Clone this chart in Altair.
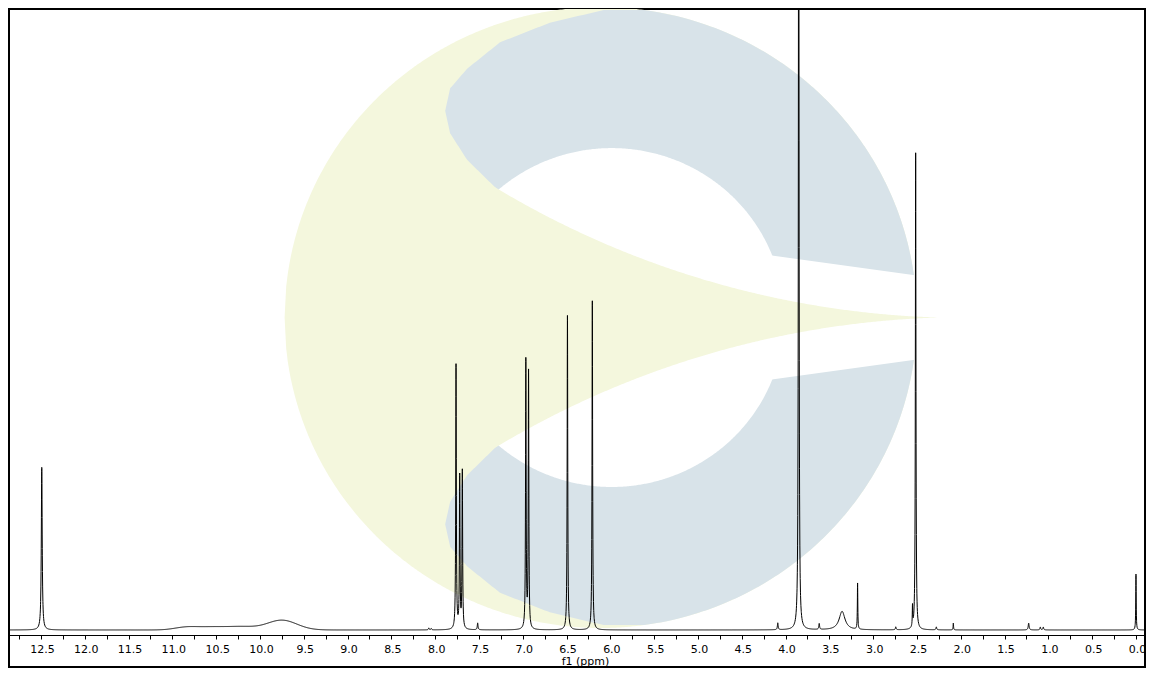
import numpy as np
import pandas as pd
import altair as alt

# ---------------- spectrum data ----------------
# sharp resonances: position (ppm), height (reference px above baseline), FWHM (ppm)
peak_ppm = [12.491, 8.073, 8.045, 7.762, 7.720, 7.690, 7.515, 6.965, 6.934,
            6.490, 6.206, 4.089, 3.850, 3.616, 3.355, 3.178, 2.742, 2.551,
            2.515, 2.279, 2.085, 1.225, 1.092, 1.058, 0.000]
peak_height = [166, 2, 1.5, 270, 155, 161, 7, 274, 262,
               321, 336, 7, 1000, 6, 19, 47, 3, 21,
               487, 3, 7, 7, 3, 3, 57]
peak_fwhm = [0.012, 0.010, 0.010, 0.008, 0.008, 0.008, 0.010, 0.008, 0.008,
             0.008, 0.008, 0.010, 0.008, 0.010, 0.080, 0.006, 0.010, 0.006,
             0.008, 0.010, 0.006, 0.012, 0.010, 0.010, 0.006]

# broad exchangeable humps: position (ppm), height, sigma (ppm)
broad_ppm = [10.85, 10.55, 10.20, 9.75]
broad_height = [2.5, 3.0, 3.0, 10.0]
broad_sigma = [0.13, 0.18, 0.16, 0.17]

# axis ticks (every 0.25 ppm, labelled every 0.5 ppm)
tick_values = [i * 0.25 for i in range(0, 52)]
x_domain = [-0.103, 12.865]
y_domain = [-37.8, 634.0]

# ---------------- build the spectrum trace ----------------
offsets = np.array([0.0, 0.0005, 0.001, 0.0015, 0.002, 0.003, 0.004, 0.005,
                    0.0065, 0.008, 0.010, 0.013, 0.016, 0.020, 0.025, 0.030])
offsets = np.concatenate([-offsets[1:], offsets])
grid = np.arange(x_domain[0], x_domain[1], 0.004)
extra = (np.array(peak_ppm)[:, None] + offsets[None, :]).ravel()
ppm = np.unique(np.concatenate([grid, extra]))
ppm = ppm[(ppm >= x_domain[0]) & (ppm <= x_domain[1])]
inten = np.zeros_like(ppm)
for c, h, w in zip(peak_ppm, peak_height, peak_fwhm):
    hw = w / 2.0
    inten += h * hw ** 2 / ((ppm - c) ** 2 + hw ** 2)
for c, h, s in zip(broad_ppm, broad_height, broad_sigma):
    inten += h * np.exp(-((ppm - c) ** 2) / (2 * s ** 2))
spec = pd.DataFrame({"ppm": ppm, "intensity": inten})

# ---------------- watermark logo (decoration) ----------------
def px_ppm(x):
    return 12.5 - (np.asarray(x, dtype=float) - 42.7) / 87.84

def px_int(y):
    return 640.0 - np.asarray(y, dtype=float)

logo_cx, logo_cy, logo_r = 604.0, 321.0, 317.0
hole_cx, hole_r = 615.0, 173.0
cap_y = [7, 20, 40, 67, 87, 110, 133, 160, 188, 190, 321]
cap_x = [607, 553, 503, 470, 453, 448, 453, 470, 498, 500, 500]

xs_ = np.linspace(logo_cx - logo_r, logo_cx + logo_r, 400)
d = np.sqrt(np.clip(logo_r ** 2 - (xs_ - logo_cx) ** 2, 0, None))
disc = pd.DataFrame({"x": px_ppm(xs_), "t": px_int(logo_cy - d), "b": px_int(logo_cy + d)})

ys_ = np.arange(7, 636, 1.0)
xl = np.interp(np.minimum(ys_, 2 * logo_cy - ys_), cap_y, cap_x)
xr = logo_cx + np.sqrt(np.clip(logo_r ** 2 - (ys_ - logo_cy) ** 2, 0, None))
blue = pd.DataFrame({"y": px_int(ys_), "x": px_ppm(xl), "xr": px_ppm(xr)})

hx = np.linspace(hole_cx - hole_r, hole_cx + hole_r, 300)
hd = np.sqrt(np.clip(hole_r ** 2 - (hx - hole_cx) ** 2, 0, None))
hole = pd.DataFrame({"x": px_ppm(hx), "t": px_int(logo_cy - hd), "b": px_int(logo_cy + hd)})

sx = np.array([770.0, 950.0])
st = 257 + 0.14 * (sx - 770)
strip = pd.DataFrame({"x": px_ppm(sx), "t": px_int(st), "b": px_int(2 * logo_cy - st)})

kx = np.linspace(440, 943, 300)
ku = -580.9 + np.sqrt(902.3 ** 2 - (kx - 970.2) ** 2)
ku = np.minimum(ku, logo_cy)
spike = pd.DataFrame({"x": px_ppm(kx), "t": px_int(ku), "b": px_int(2 * logo_cy - ku)})

YELLOW = "#F4F7DD"
BLUE = "#D8E3E9"

xs = alt.Scale(domain=x_domain, reverse=True, nice=False, zero=False)
ys = alt.Scale(domain=y_domain, nice=False, zero=False)

label_expr = "abs(round(datum.value * 4)) % 2 == 0 ? format(datum.value, '.1f') : ''"
x_axis = alt.Axis(
    values=tick_values,
    labelExpr=label_expr,
    offset=-32,
    grid=False,
    tickSize=4,
    tickWidth=1,
    tickColor="black",
    domainColor="black",
    domainWidth=1,
    labelColor="black",
    labelFont="DejaVu Sans",
    labelFontSize=11,
    labelPadding=4,
    labelOffset=1,
    labelOverlap=False,
    labelFlush=False,
    titleFont="DejaVu Sans",
    titleFontSize=11,
    titleFontWeight="normal",
    titleColor="black",
    titleX=576,
    titleY=26,
    titleAlign="center",
    titleBaseline="middle",
)
X_TITLE = "f1 (ppm)"


def vband(df, color):
    return alt.Chart(df).mark_area(color=color, clip=True, orient="vertical", opacity=1).encode(
        x=alt.X("x:Q", scale=xs, axis=x_axis, title=X_TITLE),
        y=alt.Y("t:Q", scale=ys, axis=None),
        y2="b:Q",
    )


blue_layer = alt.Chart(blue).mark_area(color=BLUE, clip=True, orient="horizontal", opacity=1).encode(
    y=alt.Y("y:Q", scale=ys, axis=None),
    x=alt.X("x:Q", scale=xs, axis=x_axis, title=X_TITLE),
    x2="xr:Q",
)

line = alt.Chart(spec).mark_line(color="black", strokeWidth=1, clip=True).encode(
    x=alt.X("ppm:Q", scale=xs, axis=x_axis, title=X_TITLE),
    y=alt.Y("intensity:Q", scale=ys, axis=None),
)

chart = alt.layer(
    vband(disc, YELLOW),
    blue_layer,
    vband(hole, "white"),
    vband(strip, "white"),
    vband(spike, YELLOW),
    line,
).properties(
    width=1136,
    height=658,
    padding={"left": 1, "top": 1, "right": 1, "bottom": 1},
    autosize=alt.AutoSizeParams(type="none"),
).configure_view(stroke="black", strokeWidth=2)

chart.save("out.html", embed_options={"renderer": "svg", "actions": False})
